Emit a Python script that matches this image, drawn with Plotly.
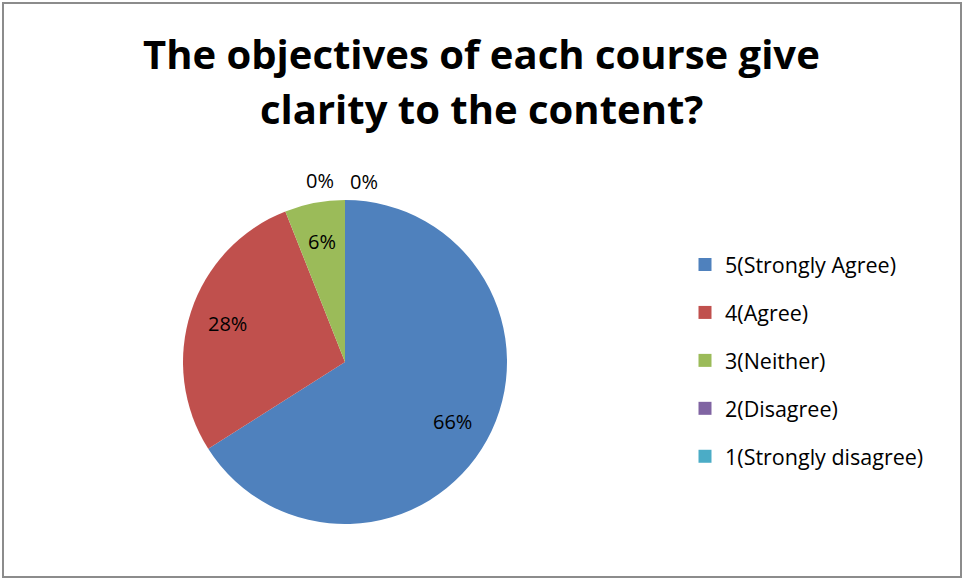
import math
import plotly.graph_objects as go

categories = ["5(Strongly Agree)", "4(Agree)", "3(Neither)", "2(Disagree)", "1(Strongly disagree)"]
values = [66, 28, 6, 0, 0]
colors = ["#4F81BD", "#C0504D", "#9BBB59", "#8064A2", "#4BACC6"]
title_lines = ["The objectives of each course give", "clarity to the content?"]

W, H = 964, 579
FONT = "Open Sans"
CX, CY, R = 345, 362, 162

fig = go.Figure()
fig.add_trace(go.Pie(
    labels=categories, values=values, sort=False, direction="clockwise", rotation=0,
    marker=dict(colors=colors, line=dict(width=0)),
    textinfo="none", showlegend=False, hoverinfo="label+percent",
    domain=dict(x=[(CX - R) / W, (CX + R) / W], y=[1 - (CY + R) / H, 1 - (CY - R) / H]),
))

# legend entries from the category data
for i, (c, col) in enumerate(zip(categories, colors)):
    fig.add_trace(go.Scatter(
        x=[None], y=[None], mode="markers", name=c, legendgroup=f"g{i}",
        marker=dict(symbol="square", size=13, color=col),
        showlegend=True,
    ))

# data labels, placed along each slice's mid-angle
total = sum(values)
cum = 0
zero_pos = [(320, 180), (364, 182)]
zi = 0
for v in values:
    if v > 0:
        mid = (cum + v / 2) / total * 2 * math.pi
        px = CX + 0.76 * R * math.sin(mid)
        py = CY - 0.76 * R * math.cos(mid)
    else:
        px, py = zero_pos[min(zi, len(zero_pos) - 1)]
        zi += 1
    fig.add_annotation(x=px / W, y=1 - py / H, xref="paper", yref="paper",
                       text=f"{round(v / total * 100)}%", showarrow=False,
                       xanchor="center", yanchor="middle",
                       font=dict(family=FONT, size=20, color="#000000"))
    cum += v

# title lines
for line, yc in zip(title_lines, [53, 108]):
    fig.add_annotation(x=481 / W, y=1 - yc / H, xref="paper", yref="paper",
                       text=f"<b>{line}</b>", showarrow=False,
                       xanchor="center", yanchor="middle",
                       font=dict(family=FONT, size=40, color="#000000"))

fig.update_layout(
    width=W, height=H,
    margin=dict(l=0, r=0, t=0, b=0),
    paper_bgcolor="white", plot_bgcolor="white",
    xaxis=dict(visible=False), yaxis=dict(visible=False),
    legend=dict(x=685 / W, y=1 - 244 / H, xanchor="left", yanchor="top",
                font=dict(family=FONT, size=21.5, color="#000000"),
                itemwidth=30, tracegroupgap=17, itemclick=False,
                bgcolor="rgba(0,0,0,0)"),
    shapes=[dict(type="rect", xref="paper", yref="paper", x0=3 / W, x1=961 / W,
                 y0=1 - 577 / H, y1=1 - 3 / H, line=dict(color="#8C8C8C", width=2))],
)

fig.write_html("out.html", config={"displayModeBar": False},
               post_script="document.body.style.margin='0';")
